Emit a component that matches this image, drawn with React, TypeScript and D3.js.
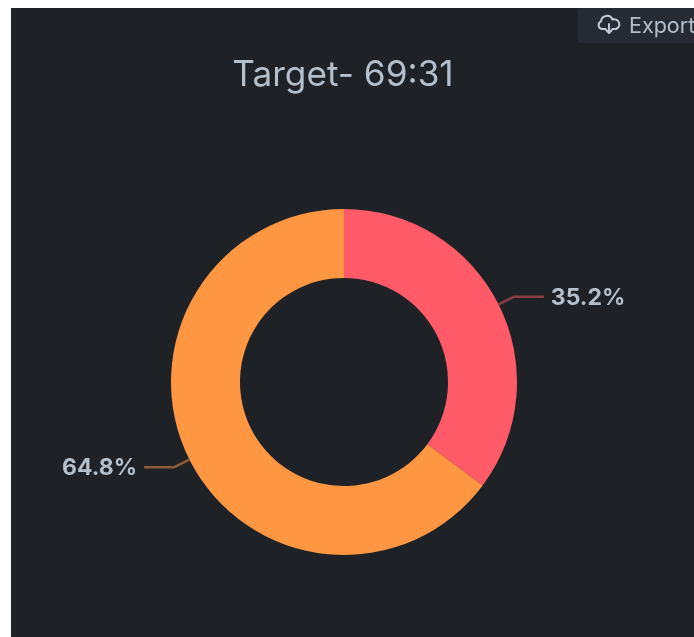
import React from "react";
import * as d3 from "d3";

const categories = ["Actual A", "Actual B"];
const seriesValues = [35.2, 64.8];
const sliceColors = ["#ff5a67", "#ff9642"];
const lineColors = ["#8a3d44", "#8f5c34"];
const titleText = "Target- 69:31";
const exportText = "Export";

const W = 694, H = 637;
const cx = 344, cy = 382, outer = 173, inner = 104, knee = 190, run = 30;
const font = "Inter, 'Noto Sans', sans-serif";

export default function App() {
  const pie = d3.pie<number>().sort(null).value((d) => d);
  const arc = d3.arc<d3.PieArcDatum<number>>().innerRadius(inner).outerRadius(outer);
  const arcs = pie(seriesValues);
  const leaderArc = d3.arc<any>();
  const at = (r: number, a: number): [number, number] => {
    const c = leaderArc.innerRadius(r).outerRadius(r).centroid({ startAngle: a, endAngle: a });
    return [cx + c[0], cy + c[1]];
  };
  return (
    <svg width={W} height={H} viewBox={`0 0 ${W} ${H}`} style={{ position: "absolute", left: 0, top: 0, display: "block", background: "#fff" }}>
      <defs>
        <filter id="soft" x="-5%" y="-5%" width="110%" height="110%"><feGaussianBlur stdDeviation="0.45" /></filter>
      </defs>
      <rect x={0} y={0} width={W} height={H} fill="#ffffff" />
      <rect x={11} y={8} width={W - 11} height={H - 8} fill="#1e2126" />
      <g filter="url(#soft)">
        <rect x={578} y={8} width={130} height={35} rx={4} fill="#272b32" />
        <g transform="translate(609,25)" fill="none" stroke="#c0cad6" strokeWidth={2} strokeLinecap="round" strokeLinejoin="round">
          <path d="M-3.5,4 H-7 A4,4 0 0 1 -8,-3.6 A6,6 0 0 1 3.5,-5.5 A4.5,4.5 0 0 1 7,4 L3.5,4" />
          <path d="M0,-1 V8 M-2.8,5 L0,8 L2.8,5" />
        </g>
        <text x={629} y={33} fontFamily={font} fontSize={21.5} fill="#b4bfcc">{exportText}</text>
        <text x={344} y={86} textAnchor="middle" fontFamily={font} fontSize={35.2} dx={-1} fill="#b4bfcc">{titleText}</text>
        {arcs.map((a, i) => (
          <path key={categories[i]} d={arc(a) ?? ""} transform={`translate(${cx},${cy})`} fill={sliceColors[i]} />
        ))}
        {arcs.map((a, i) => {
          const mid = (a.startAngle + a.endAngle) / 2;
          const p0 = at(outer, mid);
          const p1 = at(knee, mid);
          const dir = p1[0] > cx ? 1 : -1;
          const p2: [number, number] = [p1[0] + dir * run, p1[1]];
          return (
            <g key={categories[i]}>
              <path d={d3.line()([p0, p1, p2]) ?? ""} fill="none" stroke={lineColors[i]} strokeWidth={2.4} />
              <text x={p2[0] + dir * 7} y={p2[1] + 8} textAnchor={dir > 0 ? "start" : "end"} fontFamily={font} fontSize={23} fontWeight={700} fill="#b4bfcc">
                {`${seriesValues[i]}%`}
              </text>
            </g>
          );
        })}
      </g>
    </svg>
  );
}
